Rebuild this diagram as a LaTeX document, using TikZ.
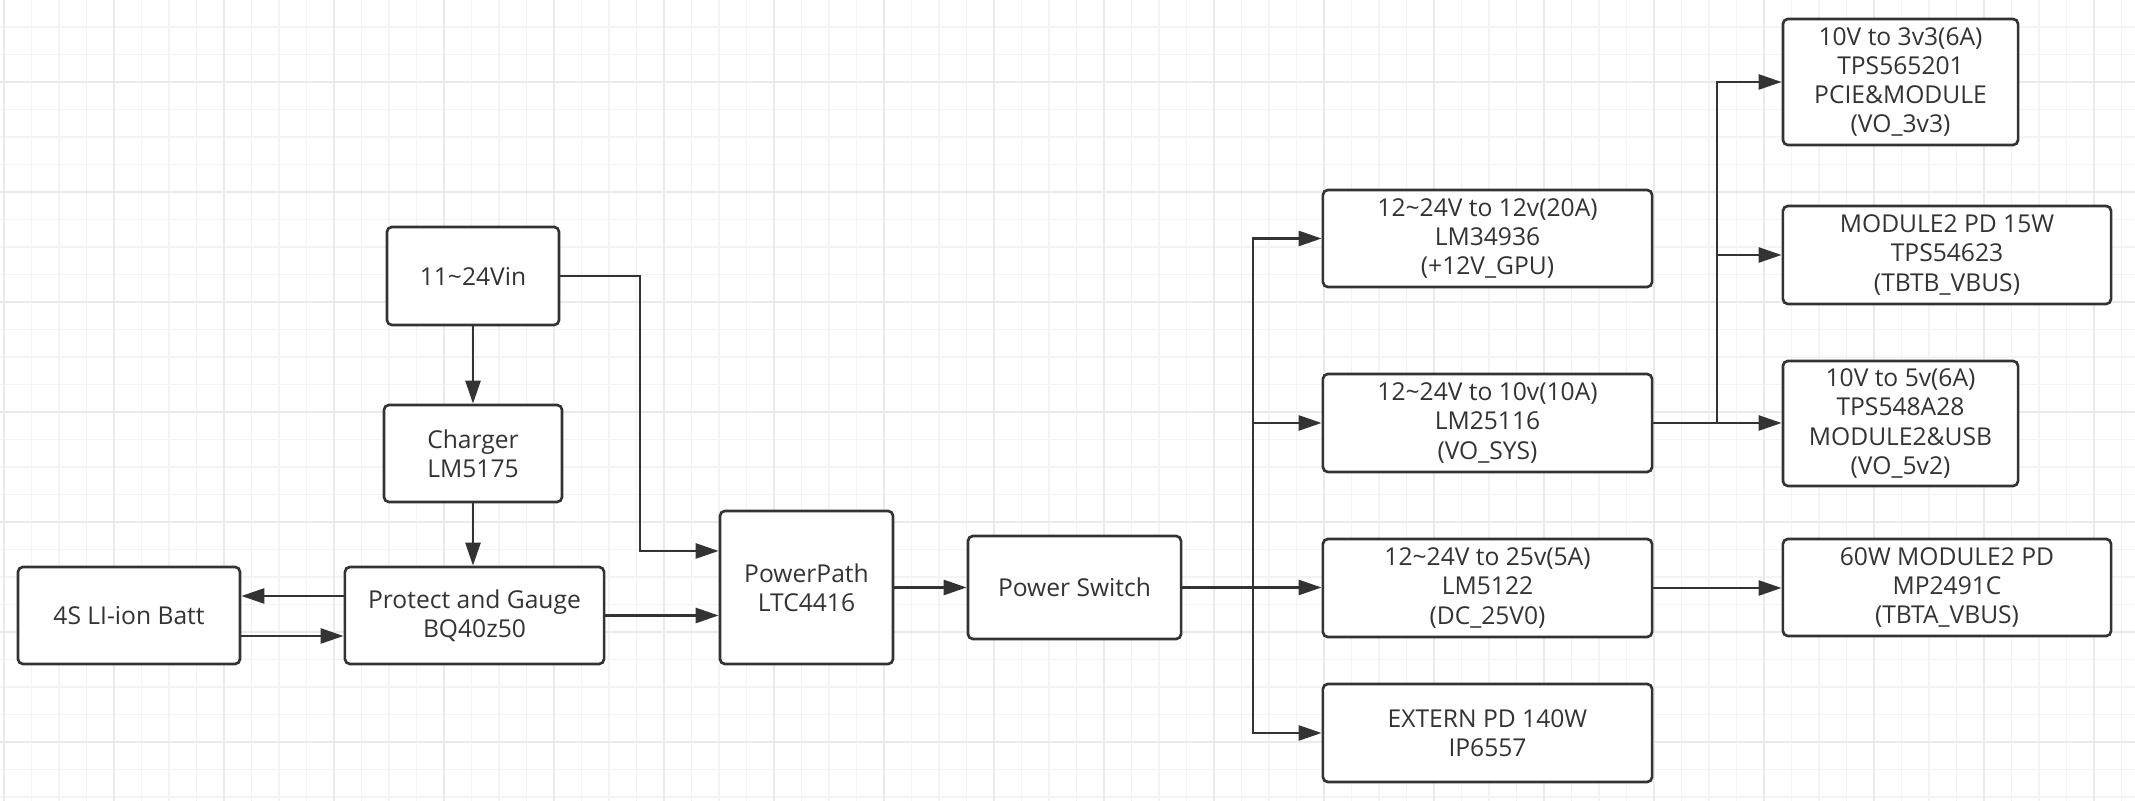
\documentclass[tikz,border=0pt]{standalone}
\usepackage{fontspec}
\setmainfont{Open Sans}
\usetikzlibrary{arrows.meta,calc}
\definecolor{ink}{HTML}{333333}
\definecolor{gminor}{HTML}{F4F4F4}
\definecolor{gmajor}{HTML}{EAEAEA}
\tikzset{
  box/.style={draw=ink, line width=0.75pt, rounded corners=0.05cm, fill=white, align=center,
    text=ink, font=\fontsize{7}{8.3}\selectfont, inner sep=0pt},
  conn/.style={draw=ink, line width=0.75pt},
  arr/.style={conn, -{Triangle[length=0.23cm,width=0.15cm]}},
  minorgrid/.style={draw=gminor, line width=0.3pt},
  majorgrid/.style={draw=gmajor, line width=0.45pt},
}
\begin{document}
\begin{tikzpicture}[x=0.01cm,y=-0.01cm]
\useasboundingbox (0,0) rectangle (2135,801);
\fill[white] (0,0) rectangle (2135,801);
% grid
\foreach \i in {0,...,77} { \draw[minorgrid] ({4+27.5*\i},0) -- ({4+27.5*\i},801); }
\foreach \j in {0,...,29} { \draw[minorgrid] (0,{-0.5+27.5*\j}) -- (2135,{-0.5+27.5*\j}); }
\foreach \i in {0,...,19} { \draw[majorgrid] ({4+110*\i},0) -- ({4+110*\i},801); }
\foreach \j in {0,...,6} { \draw[majorgrid] (0,{82+110*\j}) -- (2135,{82+110*\j}); }

% nodes
\node[box, minimum width=1.72cm, minimum height=0.98cm] (vin) at (473,276) {11\textasciitilde24Vin};
\node[box, minimum width=1.78cm, minimum height=0.97cm] (chg) at (473,453.5) {Charger\\LM5175};
\node[box, minimum width=2.59cm, minimum height=0.97cm] (prot) at (474.5,615.5) {Protect and Gauge\\BQ40z50};
\node[box, minimum width=2.22cm, minimum height=0.97cm] (batt) at (129,615.5) {4S LI-ion Batt};
\node[box, minimum width=1.73cm, minimum height=1.53cm] (pp) at (806.5,587.5) {PowerPath\\LTC4416};
\node[box, minimum width=2.13cm, minimum height=1.03cm] (ps) at (1074.5,587.5) {Power Switch};
\node[box, minimum width=3.29cm, minimum height=0.97cm] (b12) at (1487.5,238.5) {12\textasciitilde24V to 12v(20A)\\LM34936\\(+12V\_GPU)};
\node[box, minimum width=3.29cm, minimum height=0.98cm] (b10) at (1487.5,423) {12\textasciitilde24V to 10v(10A)\\LM25116\\(VO\_SYS)};
\node[box, minimum width=3.29cm, minimum height=0.98cm] (b25) at (1487.5,588) {12\textasciitilde24V to 25v(5A)\\LM5122\\(DC\_25V0)};
\node[box, minimum width=3.29cm, minimum height=0.98cm] (ext) at (1487.5,733) {EXTERN PD 140W\\IP6557};
\node[box, minimum width=2.35cm, minimum height=1.26cm] (b33) at (1900.5,82) {10V to 3v3(6A)\\TPS565201\\PCIE\&MODULE\\(VO\_3v3)};
\node[box, minimum width=3.28cm, minimum height=0.98cm] (b15) at (1947,255) {MODULE2 PD 15W\\TPS54623\\(TBTB\_VBUS)};
\node[box, minimum width=2.35cm, minimum height=1.25cm] (b5) at (1900.5,423.5) {10V to 5v(6A)\\TPS548A28\\MODULE2\&USB\\(VO\_5v2)};
\node[box, minimum width=3.28cm, minimum height=0.97cm] (b60) at (1947,587.5) {60W MODULE2 PD\\MP2491C\\(TBTA\_VBUS)};

% helper coordinates
\coordinate (pb1) at (0,596);
\coordinate (pb2) at (0,636);
\coordinate (vx) at (640,0);
\coordinate (vy) at (0,551);
\coordinate (bus) at (1253,0);
\coordinate (br) at (1717,0);

% connectors
\draw[arr] (vin.south) -- (chg.north);
\draw[arr] (chg.south) -- (chg.south |- prot.north);
\draw[arr] (prot.west |- pb1) -- (batt.east |- pb1);
\draw[arr] (batt.east |- pb2) -- (prot.west |- pb2);
\draw[arr] (vin.east) -| (vx |- vy) -- (pp.west |- vy);
\draw[arr] (prot.east) -- (prot.east -| pp.west);
\draw[arr] (pp.east) -- (ps.west);
\draw[arr] (ps.east) -- (ps.east -| b25.west);
\draw[arr] (ps.east -| bus) |- (b12.west);
\draw[arr] (ps.east -| bus) |- (b10.west);
\draw[arr] (ps.east -| bus) |- (ext.west);
\draw[arr] (b10.east) -- (b10.east -| b5.west);
\draw[arr] (b10.east -| br) |- (b33.west);
\draw[arr] (b10.east -| br) |- (b15.west);
\draw[arr] (b25.east) -- (b25.east -| b60.west);
\end{tikzpicture}
\end{document}
